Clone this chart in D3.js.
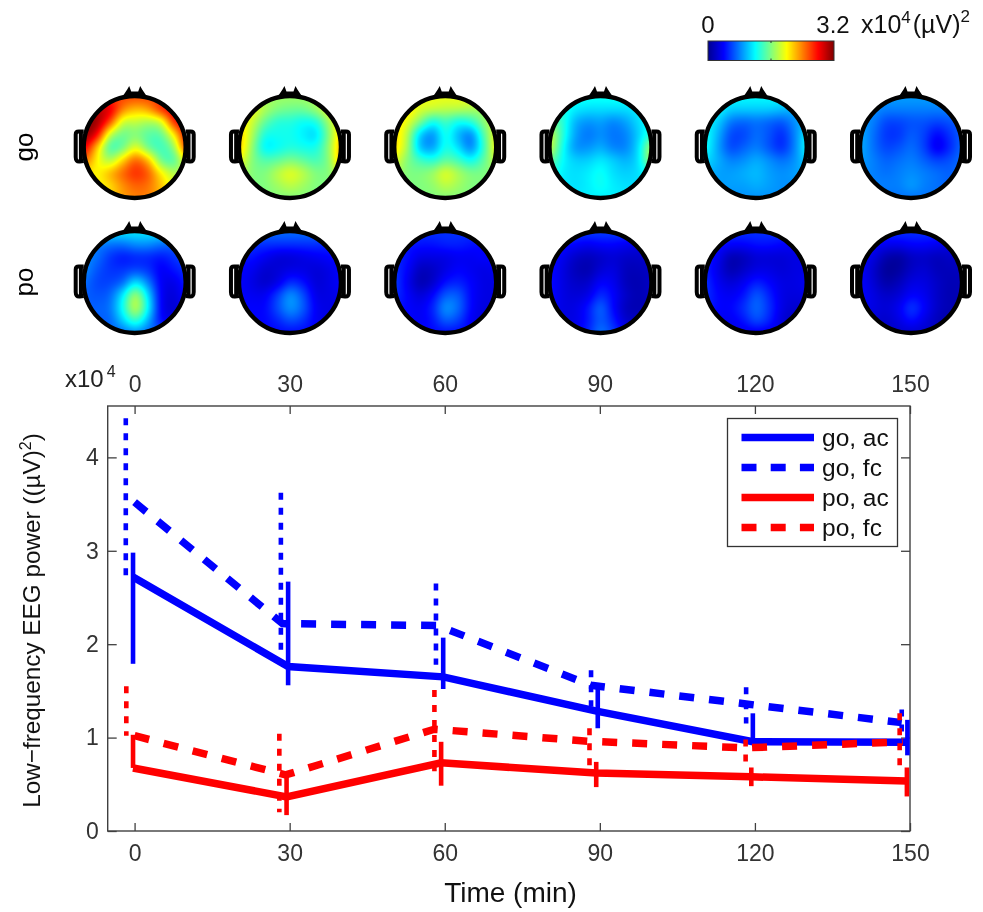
<!DOCTYPE html>
<html><head><meta charset="utf-8">
<script src="https://cdn.jsdelivr.net/npm/d3@7"></script>
<style>
html,body{margin:0;padding:0;background:#fff;width:983px;height:912px;overflow:hidden}
canvas,svg{position:absolute;left:0;top:0}
text{font-family:"Liberation Sans",Arial,sans-serif}
</style></head><body>
<canvas id="maps" width="983" height="912"></canvas>
<svg id="chart" width="983" height="912"></svg>
<script>
// ---------- line chart data (x10^4 uV^2) ----------
const timeTicks = [0,30,60,90,120,150];
const powerTicks = [0,1,2,3,4];

const goAcTimes = [-0.3,29.7,59.7,89.6,119.6,149.5];
const goAcMean  = [2.72,1.76,1.65,1.28,0.955,0.95];
const goAcLow   = [1.79,1.56,1.52,1.10,0.955,0.81];
const goAcHigh  = [2.98,2.67,2.07,1.52,1.26,1.19];

const goFcBarTimes = [-1.7,28.3,58.3,88.3,118.3,148.4];
const goFcLineTimes = [0,28.6,58.6,88.3,118.3,148.4];
const goFcMean  = [3.52,2.22,2.20,1.56,1.36,1.16];
const goFcLow   = [2.67,1.86,1.78,1.33,1.15,1.00];
const goFcHigh  = [4.42,3.62,2.65,1.72,1.54,1.30];

const poAcTimes = [-0.3,29.4,59.3,89.3,119.3,149.4];
const poAcMean  = [0.675,0.365,0.73,0.62,0.58,0.535];
const poAcLow   = [0.675,0.17,0.485,0.47,0.48,0.37];
const poAcHigh  = [1.03,0.635,0.955,0.74,0.68,0.68];

const poFcBarTimes = [-1.6,28,58,88,118.2,148];
const poFcLineTimes = [0,29.2,58,88,118.2,148.6];
const poFcMean  = [1.02,0.60,1.09,0.96,0.89,0.955];
const poFcLow   = [1.02,0.20,0.64,0.70,0.74,0.62];
const poFcHigh  = [1.55,1.04,1.51,1.10,0.98,1.26];

const legendLabels = ["go, ac","go, fc","po, ac","po, fc"];
const mapTimes = ["0","30","60","90","120","150"];
const rowLabels = ["go","po"];

// ---------- scalp power: rows front to back, columns left to right ----------
const go0 = [
[2.6,2.6,2.6,2.6,2.6,2.6,2.6,2.6,2.6],
[3.0,3.0,2.95,2.4,2.2,2.3,2.7,2.9,2.9],
[3.2,3.15,2.6,1.8,1.8,1.7,1.8,2.7,2.95],
[3.2,2.85,1.75,1.5,1.6,1.45,1.45,2.0,2.85],
[2.9,2.15,1.35,1.5,1.95,1.5,1.35,1.6,2.7],
[2.5,2.0,1.7,2.15,2.55,2.25,1.5,1.4,2.0],
[2.1,2.0,2.25,2.5,2.7,2.55,2.05,1.75,1.8],
[2.0,2.0,2.1,2.35,2.5,2.45,2.2,1.9,1.8],
[2.0,2.0,2.1,2.3,2.4,2.4,2.2,2.0,1.9]];
const go30 = [
[1.7,1.7,1.7,1.7,1.7,1.7,1.7,1.7,1.7],
[2.0,2.0,1.75,1.6,1.55,1.55,1.7,1.95,2.1],
[2.1,1.85,1.5,1.3,1.3,1.2,1.25,1.7,2.1],
[2.2,1.75,1.25,1.25,1.25,1.15,1.05,1.6,2.2],
[2.2,1.65,1.12,1.2,1.3,1.25,1.25,1.65,2.3],
[2.0,1.6,1.45,1.5,1.6,1.5,1.4,1.6,2.3],
[1.8,1.6,1.6,1.8,1.95,1.8,1.6,1.6,1.9],
[1.7,1.6,1.6,1.7,1.8,1.7,1.6,1.6,1.7],
[1.6,1.6,1.6,1.6,1.6,1.6,1.6,1.6,1.6]];
const go60 = [
[1.95,1.95,1.95,1.95,1.95,1.95,1.95,1.95,1.95],
[2.1,2.1,1.9,1.85,1.8,1.8,1.75,1.7,1.7],
[2.1,1.95,1.6,1.2,1.4,1.2,1.3,1.65,1.85],
[2.15,1.8,1.0,0.8,1.3,0.95,0.75,1.45,2.0],
[2.15,1.75,0.95,0.85,1.3,1.1,0.75,1.35,2.05],
[1.95,1.6,1.4,1.3,1.5,1.4,1.2,1.5,1.85],
[1.75,1.6,1.6,1.7,1.95,1.75,1.6,1.6,1.65],
[1.65,1.6,1.6,1.65,1.8,1.7,1.6,1.6,1.6],
[1.6,1.6,1.6,1.6,1.6,1.6,1.6,1.6,1.6]];
const go90 = [
[1.25,1.25,1.25,1.25,1.25,1.25,1.25,1.25,1.25],
[1.3,1.3,1.15,1.1,1.1,1.1,1.1,1.15,1.2],
[1.6,1.35,0.95,0.85,0.9,0.8,0.9,1.1,1.25],
[1.9,1.35,0.9,0.75,0.85,0.75,0.8,1.05,1.35],
[1.9,1.25,0.85,0.85,0.95,0.8,0.8,1.1,1.8],
[1.6,1.2,1.05,1.05,1.15,1.05,0.95,1.1,1.8],
[1.35,1.15,1.1,1.15,1.25,1.1,1.05,1.1,1.3],
[1.2,1.15,1.1,1.15,1.25,1.15,1.1,1.1,1.15],
[1.15,1.15,1.15,1.15,1.15,1.15,1.15,1.15,1.15]];
const go120 = [
[1.2,1.2,1.2,1.2,1.2,1.2,1.2,1.2,1.2],
[1.2,1.2,1.05,1.05,1.05,1.05,1.0,0.95,0.95],
[1.2,1.05,0.75,0.7,0.75,0.7,0.65,0.85,1.0],
[1.25,0.95,0.6,0.6,0.75,0.65,0.5,0.8,1.2],
[1.25,0.9,0.6,0.7,0.8,0.65,0.5,0.8,1.25],
[1.1,0.95,0.8,0.85,0.95,0.85,0.75,0.85,1.1],
[1.0,0.9,0.9,0.95,1.0,0.9,0.85,0.9,0.95],
[0.9,0.9,0.9,0.9,0.95,0.9,0.85,0.85,0.85],
[0.85,0.85,0.85,0.85,0.85,0.85,0.85,0.85,0.85]];
const go150 = [
[0.9,0.9,0.9,0.9,0.9,0.9,0.9,0.9,0.9],
[0.85,0.85,0.8,0.8,0.8,0.8,0.8,0.8,0.8],
[0.9,0.8,0.6,0.6,0.65,0.65,0.6,0.65,0.7],
[0.95,0.75,0.55,0.55,0.7,0.6,0.38,0.55,0.7],
[0.95,0.75,0.6,0.65,0.75,0.6,0.3,0.5,0.75],
[0.9,0.8,0.7,0.75,0.8,0.7,0.6,0.65,0.75],
[0.85,0.8,0.75,0.8,0.85,0.8,0.75,0.7,0.75],
[0.8,0.8,0.8,0.8,0.9,0.8,0.75,0.7,0.7],
[0.75,0.75,0.75,0.75,0.75,0.75,0.75,0.75,0.75]];
const po0 = [
[1.15,1.15,1.15,1.15,1.15,1.15,1.15,1.15,1.15],
[0.8,0.8,0.75,0.75,0.85,0.85,0.75,0.7,0.7],
[0.85,0.75,0.55,0.45,0.5,0.5,0.45,0.55,0.65],
[0.85,0.65,0.55,0.55,0.6,0.55,0.35,0.45,0.55],
[0.75,0.6,0.6,0.7,1.15,0.8,0.35,0.3,0.5],
[0.7,0.65,0.7,1.15,1.8,1.1,0.35,0.25,0.45],
[0.7,0.7,0.75,1.25,1.9,1.2,0.35,0.22,0.4],
[0.7,0.7,0.7,1.05,1.4,0.95,0.4,0.3,0.4],
[0.7,0.7,0.7,0.7,0.8,0.7,0.7,0.7,0.7]];
const po30 = [
[0.75,0.75,0.75,0.75,0.75,0.75,0.75,0.75,0.75],
[0.55,0.55,0.55,0.55,0.55,0.55,0.55,0.5,0.5],
[0.45,0.45,0.35,0.25,0.25,0.3,0.35,0.4,0.45],
[0.4,0.35,0.22,0.25,0.3,0.3,0.25,0.3,0.4],
[0.4,0.3,0.2,0.3,0.55,0.45,0.25,0.3,0.4],
[0.4,0.35,0.35,0.6,0.9,0.65,0.3,0.3,0.35],
[0.4,0.4,0.4,0.65,0.9,0.7,0.35,0.3,0.3],
[0.4,0.4,0.4,0.5,0.65,0.55,0.35,0.3,0.3],
[0.4,0.4,0.4,0.4,0.4,0.4,0.4,0.4,0.4]];
const po60 = [
[0.55,0.55,0.55,0.55,0.55,0.55,0.55,0.55,0.55],
[0.45,0.45,0.45,0.45,0.5,0.5,0.45,0.4,0.4],
[0.5,0.45,0.3,0.3,0.3,0.35,0.35,0.4,0.4],
[0.55,0.4,0.15,0.18,0.3,0.4,0.35,0.3,0.35],
[0.6,0.35,0.1,0.2,0.45,0.5,0.4,0.3,0.3],
[0.55,0.4,0.25,0.4,0.7,0.7,0.4,0.3,0.3],
[0.45,0.4,0.35,0.5,0.9,0.75,0.4,0.28,0.3],
[0.4,0.4,0.35,0.45,0.7,0.6,0.35,0.25,0.25],
[0.4,0.4,0.4,0.4,0.4,0.4,0.4,0.4,0.4]];
const po90 = [
[0.6,0.6,0.6,0.6,0.6,0.6,0.6,0.6,0.6],
[0.45,0.45,0.4,0.35,0.4,0.4,0.35,0.3,0.3],
[0.45,0.35,0.2,0.15,0.2,0.25,0.2,0.2,0.25],
[0.45,0.3,0.15,0.1,0.25,0.3,0.15,0.15,0.2],
[0.45,0.3,0.2,0.2,0.4,0.35,0.15,0.12,0.2],
[0.45,0.3,0.25,0.3,0.55,0.4,0.2,0.12,0.2],
[0.4,0.3,0.3,0.45,0.75,0.4,0.15,0.12,0.15],
[0.35,0.3,0.3,0.45,0.7,0.5,0.2,0.2,0.15],
[0.4,0.35,0.35,0.5,0.8,0.6,0.4,0.2,0.2]];
const po120 = [
[0.55,0.55,0.55,0.55,0.55,0.55,0.55,0.55,0.55],
[0.45,0.45,0.4,0.4,0.45,0.45,0.4,0.35,0.3],
[0.5,0.35,0.1,0.15,0.25,0.25,0.25,0.3,0.3],
[0.5,0.3,0.1,0.2,0.3,0.3,0.25,0.3,0.3],
[0.55,0.35,0.25,0.35,0.5,0.4,0.3,0.3,0.35],
[0.55,0.4,0.35,0.45,0.7,0.5,0.3,0.28,0.3],
[0.5,0.4,0.4,0.55,0.75,0.55,0.3,0.22,0.25],
[0.4,0.35,0.35,0.45,0.65,0.5,0.25,0.15,0.15],
[0.3,0.3,0.3,0.3,0.3,0.3,0.3,0.3,0.3]];
const po150 = [
[0.55,0.55,0.55,0.55,0.55,0.55,0.55,0.55,0.55],
[0.4,0.4,0.35,0.35,0.4,0.4,0.35,0.3,0.3],
[0.4,0.3,0.1,0.05,0.18,0.2,0.15,0.2,0.2],
[0.4,0.22,0.02,0.05,0.2,0.25,0.15,0.15,0.18],
[0.4,0.25,0.08,0.15,0.3,0.3,0.2,0.13,0.15],
[0.4,0.3,0.2,0.25,0.4,0.35,0.2,0.12,0.15],
[0.35,0.3,0.25,0.35,0.6,0.4,0.2,0.13,0.12],
[0.3,0.25,0.2,0.3,0.45,0.3,0.15,0.08,0.08],
[0.2,0.2,0.2,0.2,0.2,0.2,0.2,0.2,0.2]];
const goMaps = [go0,go30,go60,go90,go120,go150];
const poMaps = [po0,po30,po60,po90,po120,po150];

// ---------- scales ----------
const x = d3.scaleLinear().domain([-5.2,150]).range([107.7,910]);
const y = d3.scaleLinear().domain([0,4.55]).range([831,406]);
const jetStops = [0,0.4,1.2,2.0,2.8,3.2];
const jetColors = ["#00008f","#0000ff","#00ffff","#ffff00","#ff0000","#800000"];
const jet = d3.scaleLinear().domain(jetStops).range(jetColors).clamp(true);

const svg = d3.select("#chart");
const ctx = document.getElementById("maps").getContext("2d");
const ink = "#000";

// ---------- scalp maps ----------
const colX = d3.scalePoint().domain(mapTimes).range([134.7,911]);
const rowY = d3.scalePoint().domain(rowLabels).range([147,282]);
const headR = 51;

// smooth cubic resampling of the coarse reading (blend of Catmull-Rom and B-spline)
function cr(a,b,c,d,t){
  const t2=t*t,t3=t2*t;
  const cat=0.5*(2*b+(c-a)*t+(2*a-5*b+4*c-d)*t2+(3*b-a-3*c+d)*t3);
  const bsp=((1-t)*(1-t)*(1-t)*a+(3*t3-6*t2+4)*b+(-3*t3+3*t2+3*t+1)*c+t3*d)/6;
  return 0.35*cat+0.65*bsp;
}
function sample(g,u,v){
  const n=g.length-1, fx=(u+1)/2*n, fy=(v+1)/2*n;
  const i=Math.max(0,Math.min(n-1,Math.floor(fx))), j=Math.max(0,Math.min(n-1,Math.floor(fy)));
  const row=k=>{const r=g[Math.max(0,Math.min(n,k))];
    return cr(r[Math.max(0,i-1)],r[i],r[i+1],r[Math.min(n,i+2)],fx-i);};
  return cr(row(j-1),row(j),row(j+1),row(j+2),fy-j);
}
function drawMap(g,cx,cy){
  const img=ctx.createImageData(2*headR+2,2*headR+2);
  for(let py=0;py<img.height;py++)for(let px=0;px<img.width;px++){
    const u=(px-headR-1)/headR,v=(py-headR-1)/headR;
    if(u*u+v*v>1.02)continue;
    const c=d3.rgb(jet(sample(g,u,v))),k=4*(py*img.width+px);
    img.data[k]=c.r;img.data[k+1]=c.g;img.data[k+2]=c.b;img.data[k+3]=255;
  }
  ctx.putImageData(img,Math.round(cx-headR-1),Math.round(cy-headR-1));
}
const earL="M-51,-15.5L-56,-15.5Q-59,-15.5 -59,-12.5L-59,10Q-59,15 -55,14.5L-51,14M-53.8,-15L-53.8,14";
const earR="M51,-15.5L56,-15.5Q59,-15.5 59,-12.5L59,10Q59,15 55,14.5L51,14M53.8,-15L53.8,14";
const nose="M-12.5,-50L-7.5,-57.5L-5.5,-61L-3.5,-55.5L3.5,-55.5L5.5,-61L7.5,-57.5L12.5,-50Z";
rowLabels.forEach((r,ri)=>{
  const maps = ri===0?goMaps:poMaps;
  mapTimes.forEach((t,ci)=>{
    drawMap(maps[ci],colX(t),rowY(r));
    const h=svg.append("g").attr("transform",`translate(${colX(t)},${rowY(r)})`);
    h.append("path").attr("d",earL).attr("fill","none").attr("stroke",ink).attr("stroke-width",4);
    h.append("path").attr("d",earR).attr("fill","none").attr("stroke",ink).attr("stroke-width",4);
    h.append("path").attr("d",nose).attr("fill",ink);
    h.append("circle").attr("r",headR).attr("fill","none").attr("stroke",ink).attr("stroke-width",4.4);
  });
  svg.append("text").attr("transform",`translate(33,${rowY(r)}) rotate(-90)`)
    .attr("text-anchor","middle").attr("font-size",26).attr("fill",ink).text(r);
});

// ---------- colour bar ----------
const barX = d3.scaleLinear().domain([0,3.2]).range([708,834]);
d3.range(708,834).forEach(px=>{ctx.fillStyle=jet(barX.invert(px+0.5));ctx.fillRect(px,41,1,19.5);});
svg.append("rect").attr("x",barX(0)).attr("y",41).attr("width",barX(3.2)-barX(0)).attr("height",19.5)
  .attr("fill","none").attr("stroke","#333").attr("stroke-width",1);
[41,58.5].forEach(yy=>svg.append("line").attr("x1",barX(1.6)).attr("x2",barX(1.6)).attr("y1",yy).attr("y2",yy+2).attr("stroke","#333"));
svg.append("text").attr("x",708).attr("y",33).attr("text-anchor","middle").attr("font-size",24).attr("fill","#111").text("0");
svg.append("text").attr("x",833).attr("y",33).attr("text-anchor","middle").attr("font-size",24).attr("fill","#111").text("3.2");
const unit=svg.append("text").attr("x",861).attr("y",33).attr("font-size",25).attr("fill","#111");
unit.append("tspan").text("x10");
unit.append("tspan").attr("dy",-10).attr("font-size",17).text("4");
unit.append("tspan").attr("dy",10).attr("dx",2).text("(µV)");
unit.append("tspan").attr("dy",-11).attr("font-size",17).text("2");

// ---------- axes box ----------
const axisColor="#404040";
const fmtAxis=g=>{g.select(".domain").remove();g.selectAll("line").attr("stroke",axisColor).attr("stroke-width",1.3);
  g.selectAll("text").attr("fill","#333").attr("font-size",23);};
svg.append("g").attr("transform","translate(0,831)")
  .call(d3.axisBottom(x).tickValues(timeTicks).tickSize(-8).tickPadding(14)).call(fmtAxis)
  .selectAll("text").attr("dy","0.71em");
svg.append("g").attr("transform","translate(0,406)")
  .call(d3.axisTop(x).tickValues(timeTicks).tickSize(-8).tickPadding(14)).call(fmtAxis);
svg.append("g").attr("transform","translate(107.7,0)")
  .call(d3.axisLeft(y).tickValues(powerTicks).tickSize(-9).tickPadding(9).tickFormat(d3.format("d"))).call(fmtAxis);
svg.append("g").attr("transform","translate(910,0)")
  .call(d3.axisRight(y).tickValues(powerTicks).tickSize(-9).tickFormat("")).call(fmtAxis);
svg.append("rect").attr("x",107.7).attr("y",406).attr("width",910-107.7).attr("height",425)
  .attr("fill","none").attr("stroke",axisColor).attr("stroke-width",1.4);

const sci=svg.append("text").attr("x",65).attr("y",387).attr("font-size",24).attr("fill","#222");
sci.append("tspan").text("x10");
sci.append("tspan").attr("dy",-10).attr("dx",3).attr("font-size",16).text("4");

const yl=svg.append("text").attr("transform","translate(40,620.5) rotate(-90)").attr("text-anchor","middle")
  .attr("font-size",24.3).attr("fill","#111");
yl.append("tspan").text("Low\u2212frequency EEG power ((µV)");
yl.append("tspan").attr("dy",-9).attr("font-size",16).text("2");
yl.append("tspan").attr("dy",9).text(")");
svg.append("text").attr("x",510.5).attr("y",902).attr("text-anchor","middle").attr("font-size",28).attr("fill","#111").text("Time (min)");

// ---------- series ----------
const blue="#0000ff", red="#ff0000";
const series=[
 {c:blue,dash:false,lx:goAcTimes,bx:goAcTimes,m:goAcMean,lo:goAcLow,hi:goAcHigh},
 {c:blue,dash:true,lx:goFcLineTimes,bx:goFcBarTimes,m:goFcMean,lo:goFcLow,hi:goFcHigh},
 {c:red,dash:false,lx:poAcTimes,bx:poAcTimes,m:poAcMean,lo:poAcLow,hi:poAcHigh},
 {c:red,dash:true,lx:poFcLineTimes,bx:poFcBarTimes,m:poFcMean,lo:poFcLow,hi:poFcHigh}];
const line=d3.line().x(d=>x(d[0])).y(d=>y(d[1]));
series.forEach(s=>{
  const g=svg.append("g");
  g.selectAll("line").data(d3.range(s.m.length)).join("line")
    .attr("x1",i=>x(s.bx[i])).attr("x2",i=>x(s.bx[i]))
    .attr("y1",i=>y(s.hi[i])).attr("y2",i=>y(s.lo[i]))
    .attr("stroke",s.c).attr("stroke-width",4.6)
    .attr("stroke-dasharray",s.dash?"7 8":null);
  g.append("path").attr("d",line(s.lx.map((v,i)=>[v,s.m[i]])))
    .attr("fill","none").attr("stroke",s.c).attr("stroke-width",7.5)
    .attr("stroke-dasharray",s.dash?"15 15":null);
});

// ---------- legend ----------
svg.append("rect").attr("x",727.5).attr("y",418.5).attr("width",170).attr("height",128)
  .attr("fill","#fff").attr("stroke","#333").attr("stroke-width",1.3);
const legY=d3.scalePoint().domain(legendLabels).range([437.5,527.5]);
legendLabels.forEach((l,i)=>{
  svg.append("line").attr("x1",741.5).attr("x2",814).attr("y1",legY(l)).attr("y2",legY(l))
    .attr("stroke",series[i].c).attr("stroke-width",7.5)
    .attr("stroke-dasharray",series[i].dash?"15 14.2":null);
  svg.append("text").attr("x",822).attr("y",legY(l)+8).attr("font-size",24.5).attr("fill","#111").text(l);
});
</script>
</body></html>
